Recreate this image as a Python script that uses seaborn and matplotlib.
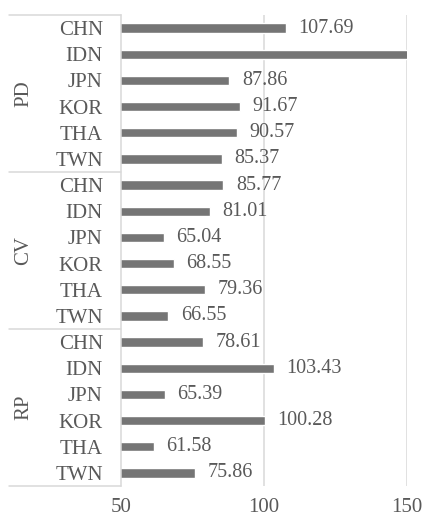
import numpy as np
import pandas as pd
import matplotlib
matplotlib.use("Agg")
import matplotlib.pyplot as plt
import matplotlib.transforms as mtransforms
import seaborn as sns

# Data
groups = ["PD", "CV", "RP"]
countries = ["CHN", "IDN", "JPN", "KOR", "THA", "TWN"]
pd_values = [107.69, 162.0, 87.86, 91.67, 90.57, 85.37]  # IDN runs off the axis
cv_values = [85.77, 81.01, 65.04, 68.55, 79.36, 66.55]
rp_values = [78.61, 103.43, 65.39, 100.28, 61.58, 75.86]
x_ticks = [50, 100, 150]

sns.set_theme(style="white")
plt.rcParams['font.family'] = ['Liberation Serif', 'DejaVu Serif']
text_color = "#595959"
bar_color = "#757575"
line_color = "#d9d9d9"
fsize = 15

rows = []
for g, vals in zip(groups, [pd_values, cv_values, rp_values]):
    for c, v in zip(countries, vals):
        rows.append({"key": f"{g}-{c}", "group": g, "country": c, "value": v})
df = pd.DataFrame(rows)

fig = plt.figure(figsize=(4.22, 5.18), dpi=100)
ax = fig.add_axes([121 / 422, 32 / 518, 286 / 422, 471 / 518])

sns.barplot(data=df, x="value", y="key", order=df["key"], color=bar_color,
            width=0.36, saturation=1, ax=ax)

ax.set_xlim(50, 150)
ax.set_ylim(17.5, -0.5)
ax.set_xticks(x_ticks)
ax.set_xticklabels([str(t) for t in x_ticks], color=text_color, fontsize=fsize)
ax.set_yticks(range(len(df)))
ax.set_yticklabels(df["country"], color=text_color, fontsize=fsize)
ax.tick_params(axis="y", length=0, pad=13)
ax.tick_params(axis="x", length=0, pad=9)
ax.set_xlabel("")
ax.set_ylabel("")

for s in ["top", "right", "bottom"]:
    ax.spines[s].set_visible(False)
ax.spines["left"].set_color(line_color)
ax.spines["left"].set_linewidth(1.1)
for t in x_ticks[1:]:
    ax.axvline(t, color=line_color, lw=1.1, zorder=0)

# value labels
for i, v in enumerate(df["value"]):
    ax.annotate(f"{v:.2f}", xy=(v, i), xytext=(9, 0), textcoords="offset points",
                va="center", ha="left", color=text_color, fontsize=fsize - 0.5,
                annotation_clip=True, clip_on=True)

# group axis (Excel-style multi-level categories)
trans = mtransforms.blended_transform_factory(ax.transAxes, ax.transData)
x0 = -0.39
for yb in [-0.5, 5.5, 11.5, 17.5]:
    ax.plot([x0, 0], [yb, yb], transform=trans, color=line_color, lw=1.1,
            clip_on=False)
for k, g in enumerate(groups):
    ax.text(-0.34, k * 6 + 2.5, g, transform=trans, rotation=90,
            ha="center", va="center", color=text_color, fontsize=fsize)

fig.savefig("out.png", dpi=100)
